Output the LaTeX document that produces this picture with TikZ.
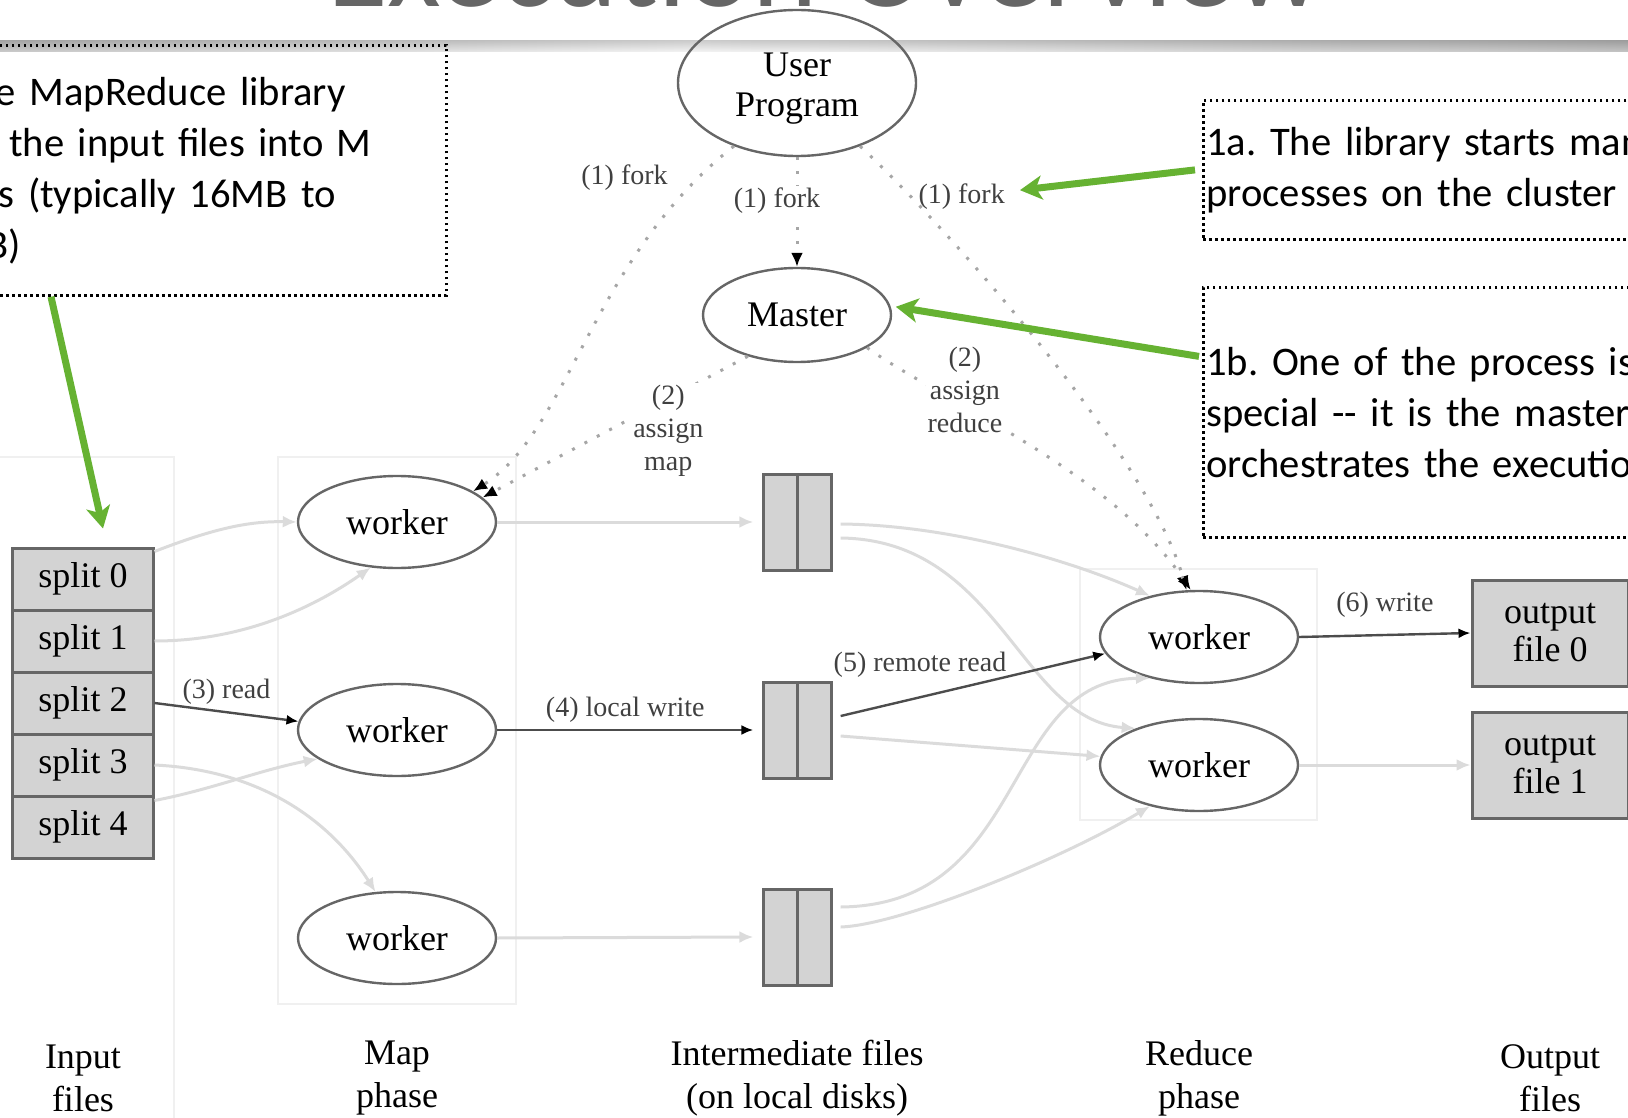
\documentclass[tikz,border=0pt]{standalone}
\usepackage{fontspec}
\setmainfont{Liberation Serif}
\newfontfamily\calibri{Carlito}
\usepackage{tikz}
\usetikzlibrary{matrix, calc, positioning, arrows.meta, shapes}
\definecolor{boxgray}{HTML}{D3D3D3}
\definecolor{notegreen}{HTML}{66B232}
\frenchspacing
\tikzset{
filetable/.style={
  line width=1.5pt,
  matrix of nodes,
  row sep=-\pgflinewidth,
  column sep=-\pgflinewidth,
  nodes={draw=black!60, fill=boxgray, rectangle, inner sep=0pt,
    font=\fontsize{18}{20}\selectfont},
  nodes in empty cells
},
interfile/.style={filetable, nodes={minimum width=17pt, minimum height=48pt}},
worker/.style={ellipse, draw=black!60, line width=1.2pt, minimum width=99pt,
  minimum height=46pt, inner sep=0pt, align=center, font=\fontsize{18}{20}\selectfont},
outfile/.style={rectangle, draw=black!60, fill=boxgray, line width=1.5pt,
  minimum width=78pt, minimum height=53pt, align=center, font=\fontsize{18}{19}\selectfont},
phase/.style={align=center, font=\fontsize{18}{21.5}\selectfont},
edgelabel/.style={text=black!75, font=\fontsize{14}{16.5}\selectfont},
lightedge/.style={draw=black!14, line width=1.5pt, -{Latex[length=7pt,width=6pt]}},
darkedge/.style={draw=black!70, line width=1.2pt, -{Latex[length=6pt,width=5pt,black]}},
ctrledge/.style={draw=black!35, line width=1.5pt, dash pattern=on 1.5pt off 5.5pt,
  -{Latex[length=7pt,width=6pt,black]}},
note/.style={draw=black, line width=1.4pt, dash pattern=on 1.4pt off 1.6pt,
  align=left, font=\calibri\fontsize{20.3}{25.5}\selectfont},
notearrow/.style={draw=notegreen, line width=3.5pt,
  -{Stealth[length=11pt,width=12pt,inset=3pt]}},
cluster/.style={draw=black!6, line width=1pt}
}

\begin{document}
\begin{tikzpicture}[x=0.5pt, y=-0.5pt]
\useasboundingbox (0,0) rectangle (1628,1118);

\shade[left color=black!40, right color=black!8] (0,41) rectangle (700,52);
\shade[left color=black!8, right color=black!45] (700,41) rectangle (1628,52);
\shade[top color=black!30, bottom color=white, opacity=0.5] (0,41) rectangle (1628,52);
\node[anchor=base, text=black!60, font=\calibri\fontsize{62}{70}\selectfont] (title) at (825,7) {Execution Overview};

\draw[cluster] (-5,457) rectangle (174,1130);
\draw[cluster] (278,457) rectangle (516,1004);
\draw[cluster] (1080,569) rectangle (1317,820);

\node[worker, minimum width=119pt, minimum height=73pt] (user) at (797,83) {\rule{0pt}{17pt}User\\Program};
\node[worker, minimum width=94pt, minimum height=47pt] (master) at (797,315) {Master};

\matrix (splits) [filetable, nodes={minimum width=70pt, minimum height=31pt}] at (83,703) {
  split 0 \\
  split 1 \\
  split 2 \\
  split 3 \\
  split 4 \\
};

\node[worker] (mw1) at (397,522) {worker};
\node[worker] (mw2) at (397,730) {worker};
\node[worker] (mw3) at (397,938) {worker};

\matrix (inter1) [interfile] at (797,522) { & \\ };
\matrix (inter2) [interfile] at (797,730) { & \\ };
\matrix (inter3) [interfile] at (797,937) { & \\ };

\node[worker] (rw1) at (1199,637) {worker};
\node[worker] (rw2) at (1199,765) {worker};

\node[outfile] (out0) at (1550,633) {output\\file 0};
\node[outfile] (out1) at (1550,765) {output\\file 1};

\node[phase] (inlabel) at (83,1078) {Input\\files};
\node[phase] (maplabel) at (397,1078) {Map\\phase};
\node[phase] (interlabel) at (797,1078) {Intermediate files\\(on local disks)};
\node[phase] (redlabel) at (1199,1078) {Reduce\\phase};
\node[phase] (outlabel) at (1550,1078) {Output\\files};

\draw[lightedge] ([yshift=-2.5pt]splits-1-1.north east) .. controls (215,528) and (250,521) .. (mw1.west);
\draw[lightedge] (splits-2-1.east) .. controls (240,641) and (310,610) .. (mw1.240);
\draw[darkedge] (splits-3-1.east) -- node[above, edgelabel] (readlbl) {(3) read} (mw2.175);
\draw[lightedge] (splits-4-1.east) .. controls (260,770) and (330,820) .. (mw3.115);
\draw[lightedge] ([yshift=-3pt]splits-5-1.north east) .. controls (210,790) and (260,770) .. (mw2.200);

\draw[lightedge] (mw1.east) -- (inter1.west);
\draw[darkedge] (mw2.east) -- node[above, edgelabel] (writelbl) {(4) local write} (inter2.west);
\draw[lightedge] (mw3.east) -- (inter3.west);

\draw[lightedge] ([yshift=-1pt]inter1.east) .. controls (950,525) and (1070,560) .. (rw1.140);
\draw[lightedge] ([yshift=-8pt]inter1.east) .. controls (1000,540) and (1020,720) .. (rw2.150);
\draw[darkedge] ([yshift=7pt]inter2.east) -- node[pos=.3, above=6pt, edgelabel] (remotelbl) {(5) remote read} (rw1.190);
\draw[lightedge] ([yshift=-3pt]inter2.east) -- (rw2.175);
\draw[lightedge] ([yshift=15pt]inter3.east) .. controls (1030,905) and (1000,680) .. (rw1.220);
\draw[lightedge] ([yshift=5pt]inter3.east) .. controls (900,925) and (1060,860) .. (rw2.220);

\draw[darkedge] (rw1.east) -- node[above=5pt, edgelabel] (outlbl) {(6) write} (out0.west);
\draw[lightedge] (rw2.east) -- (out1.west);

\draw[ctrledge] (user.south) -- (master.north) node[pos=.4, xshift=-10pt, fill=white, inner sep=1pt, edgelabel] (forkM) {(1) fork};
\draw[ctrledge] (user.225) .. controls (590,260) and (570,430) .. (mw1.22) node[pos=.09, left=11pt, edgelabel] (forkL) {(1) fork};
\draw[ctrledge] (master.220) -- (mw1.16) node[pos=.3, yshift=-16pt, fill=white, inner sep=1pt, align=center, edgelabel] (maplbl) {(2)\\assign\\map};
\draw[ctrledge] (user.315) .. controls (960,240) and (1150,460) .. (rw1.105) node[pos=.15, right, edgelabel] (forkR) {(1) fork};
\draw[ctrledge] (master.335) .. controls (940,400) and (1110,470) .. (rw1.100) node[pos=.3, xshift=5.5pt, yshift=5pt, fill=white, inner sep=1pt, align=center, edgelabel] (redlbl) {(2)\\assign\\reduce};

\node[note, text width=259pt, inner xsep=9pt, minimum height=125pt, anchor=north west] (splitnote) at (-109,44)
  {1. The MapReduce library\\splits the input files into M\\pieces (typically 16MB to\\64MB)};
\node[note, text width=350pt, inner xsep=1.5pt, minimum height=69.5pt, anchor=north west] (forknote) at (1202,99)
  {1a. The library starts many\\processes on the cluster};
\node[note, text width=350pt, inner xsep=1.5pt, minimum height=125pt, anchor=north west] (masternote) at (1202,286)
  {1b. One of the process is\\special -{}- it is the master that\\orchestrates the execution};

\draw[notearrow] ([xshift=80pt]splitnote.south west) -- ([xshift=10pt,yshift=9pt]splits-1-1.north);
\draw[notearrow] ([xshift=-3.5pt]forknote.west) -- ([xshift=3.5pt,yshift=3pt]forkR.east);
\draw[notearrow] ([xshift=-1.5pt,yshift=28pt]masternote.west) -- ([xshift=2.5pt]master.5);
\end{tikzpicture}
\end{document}
